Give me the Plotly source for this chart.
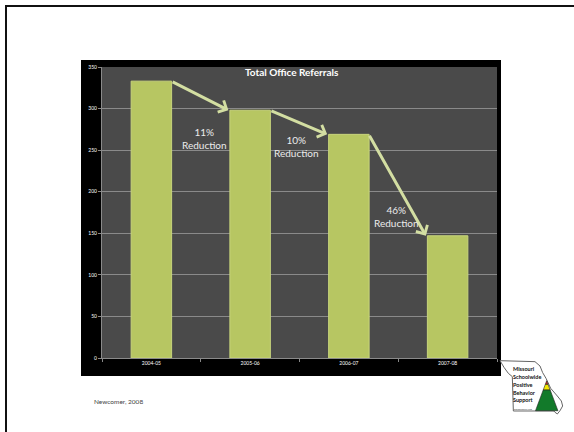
import plotly.graph_objects as go

# ---- data ----
categories = ["2004-05", "2005-06", "2006-07", "2007-08"]
referrals = [333, 298, 269, 147]
reduction_labels = ["11%<br>Reduction", "10%<br>Reduction", "46%<br>Reduction"]
y_ticks = [0, 50, 100, 150, 200, 250, 300, 350]
title_text = "Total Office Referrals"
source_text = "Newcomer, 2008"
logo_lines = ["Missouri", "Schoolwide", "Positive", "Behavior", "Support"]

# ---- geometry helpers (pixel -> paper) ----
W_FIG, H_FIG = 574, 432
L, R, T, B = 102, 497, 67, 358
PW, PH = R - L, B - T


def px(x):
    return (x - L) / PW


def py(y):
    return (B - y) / PH


def path(points):
    s = "M " + " L ".join(f"{px(x):.4f},{py(y):.4f}" for x, y in points) + " Z"
    return s


fig = go.Figure()
fig.add_trace(go.Bar(
    x=categories, y=referrals, width=0.41,
    marker=dict(color="#b7c662", line=dict(color="#c8d57c", width=1)),
    hoverinfo="skip",
))

shapes = []
# black chart frame and grey plot area
shapes.append(dict(type="rect", xref="paper", yref="paper", x0=px(81), x1=px(501), y0=py(376), y1=py(60),
                   fillcolor="#000000", line=dict(width=0), layer="below"))
shapes.append(dict(type="rect", xref="paper", yref="paper", x0=0, x1=1, y0=0, y1=1,
                   fillcolor="#4a4a4a", line=dict(width=0), layer="below"))
# slide border
shapes.append(dict(type="line", xref="paper", yref="paper", x0=px(6), x1=px(6), y0=py(5), y1=py(432),
                   line=dict(color="#111111", width=2)))
shapes.append(dict(type="line", xref="paper", yref="paper", x0=px(5), x1=px(574), y0=py(6), y1=py(6),
                   line=dict(color="#111111", width=2)))

# Missouri outline (logo)
mo = [(60, 62), (165, 65), (180, 78), (188, 98), (198, 115), (212, 145), (232, 168), (244, 183),
      (248, 198), (240, 212), (232, 222), (224, 216), (222, 213), (100, 213), (97, 110), (85, 100),
      (72, 82)]
mo_px = [(480 + a / 3, 340 + b / 3) for a, b in mo]
shapes.append(dict(type="path", xref="paper", yref="paper", path=path(mo_px),
                   fillcolor="#ffffff", line=dict(color="#666666", width=1)))
# pyramid
ax_, ay_ = 546.7, 380.7
by_ = 410.7
hw = 11.2


def half(y):
    return (y - ay_) / (by_ - ay_) * hw


def band(y0, y1):
    if y0 == ay_:
        return [(ax_, y0), (ax_ + half(y1), y1), (ax_ - half(y1), y1)]
    return [(ax_ - half(y0), y0), (ax_ + half(y0), y0), (ax_ + half(y1), y1), (ax_ - half(y1), y1)]


shapes.append(dict(type="path", xref="paper", yref="paper", path=path(band(ay_, 384.4)),
                   fillcolor="#d42020", line=dict(color="#222222", width=0.6)))
shapes.append(dict(type="path", xref="paper", yref="paper", path=path(band(384.4, 390)),
                   fillcolor="#f2e600", line=dict(color="#222222", width=0.6)))
shapes.append(dict(type="path", xref="paper", yref="paper", path=path(band(390, by_)),
                   fillcolor="#127a2a", line=dict(color="#222222", width=0.6)))

annotations = []
# title
annotations.append(dict(text=f"<b>{title_text}</b>", xref="paper", yref="paper", x=px(292), y=py(72),
                        xanchor="center", yanchor="middle", showarrow=False,
                        font=dict(family="Lato", size=10, color="#ffffff")))
# arrows between bars (tail at right edge of bar i, head at left edge of bar i+1)
for i in range(3):
    annotations.append(dict(
        x=i + 1 - 0.22, y=referrals[i + 1], ax=i + 0.2, ay=referrals[i],
        xref="x", yref="y", axref="x", ayref="y", text="", showarrow=True,
        arrowhead=4, arrowsize=0.85, arrowwidth=3, arrowcolor="#d3dea2", standoff=0,
    ))
# reduction labels
label_pos = [(204, 138), (296, 146), (396, 216)]
for (lx, ly), t in zip(label_pos, reduction_labels):
    annotations.append(dict(text=t, xref="paper", yref="paper", x=px(lx), y=py(ly),
                            xanchor="center", yanchor="middle", showarrow=False,
                            font=dict(family="Lato", size=10, color="#ececec")))
# source
annotations.append(dict(text=source_text, xref="paper", yref="paper", x=px(92), y=py(401),
                        xanchor="left", yanchor="middle", showarrow=False,
                        font=dict(family="Lato", size=6.5, color="#444444")))
# logo text
logo_y = [369, 377, 385, 392.5, 400]
for t, yy in zip(logo_lines, logo_y):
    annotations.append(dict(text=f"<b>{t}</b>", xref="paper", yref="paper", x=px(511), y=py(yy),
                            xanchor="left", yanchor="middle", showarrow=False,
                            font=dict(family="Lato", size=5.5, color="#111111")))
annotations.append(dict(text="pbismissouri.org", xref="paper", yref="paper", x=px(512), y=py(409),
                        xanchor="left", yanchor="middle", showarrow=False,
                        font=dict(family="Lato", size=2.5, color="#444444")))

fig.update_layout(
    width=W_FIG, height=H_FIG, autosize=False,
    margin=dict(l=L, r=W_FIG - R, t=T, b=H_FIG - B, pad=0),
    paper_bgcolor="#ffffff", plot_bgcolor="rgba(0,0,0,0)",
    showlegend=False, bargap=0.59,
    shapes=shapes, annotations=annotations,
    xaxis=dict(type="category", range=[-0.5, 3.5], showgrid=False, tickson="boundaries",
               ticks="outside", ticklen=3, tickcolor="#888888", showline=True, linecolor="#8a8a8a",
               tickfont=dict(family="Lato", size=5, color="#ffffff"), fixedrange=True),
    yaxis=dict(range=[0, 350], tickvals=y_ticks, showgrid=True, gridcolor="#8a8a8a", gridwidth=1,
               ticks="outside", ticklen=3, tickcolor="#888888", showline=True, linecolor="#8a8a8a",
               zeroline=False, tickfont=dict(family="Lato", size=5, color="#ffffff"), fixedrange=True),
)

fig.write_html("out.html")
